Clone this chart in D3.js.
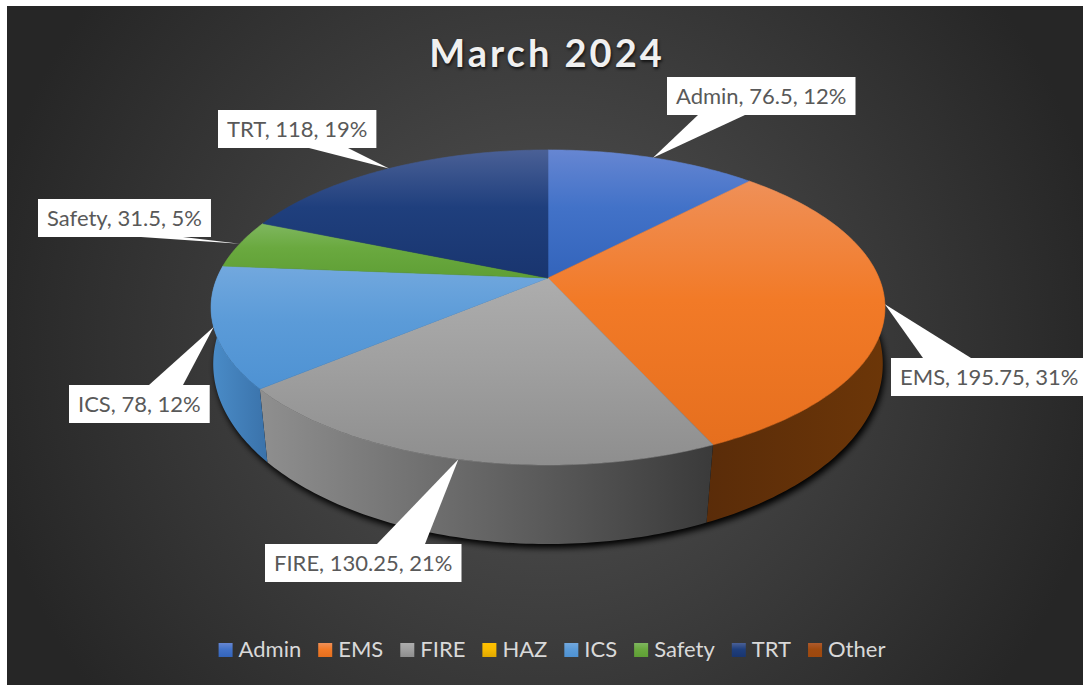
<!DOCTYPE html>
<html>
<head>
<meta charset="utf-8">
<style>
  html, body { margin: 0; padding: 0; background: #fff; }
  svg { display: block; }
  text { font-family: Lato, "Noto Sans", sans-serif; }
</style>
</head>
<body>
<div id="chart"></div>
<script src="https://cdnjs.cloudflare.com/ajax/libs/d3/7.8.5/d3.min.js"></script>
<script>
// data
var categories = ["Admin", "EMS", "FIRE", "HAZ", "ICS", "Safety", "TRT", "Other"];
var hours = [76.5, 195.75, 130.25, 0, 78, 31.5, 118, 0];
var percentLabels = ["12%", "31%", "21%", "0%", "12%", "5%", "19%", "0%"];

// slice colours
var topLight = ["#6686d2", "#ef9058", "#adadad", "#ffc000", "#72a8de", "#7fb75f", "#4a6096", "#ae5a2c"];
var topMid = ["#4272c8", "#f27a27", "#a0a0a0", "#f8bb00", "#5b9bd8", "#6aa93f", "#1f3f7d", "#a04b10"];
var topDark = ["#3364bb", "#e66f1e", "#8e8e8e", "#e0a800", "#4e92d3", "#5f9f35", "#19356f", "#9e480e"];
var sideLeft = ["#2f5597", "#5a2c09", "#8f8f8f", "#b08600", "#4a8cc8", "#4e7f2e", "#1a3368", "#6a3008"];
var sideRight = ["#2f5597", "#6c3608", "#3a3a3a", "#b08600", "#3a72aa", "#4e7f2e", "#1a3368", "#6a3008"];

// callout box corner and where its pointer leaves the box
var calloutLayout = {
  Admin: {x: 667, y: 77, base0: 698, base1: 745},
  EMS: {x: 891, y: 358, base0: 923, base1: 971},
  FIRE: {x: 265, y: 544, base0: 377, base1: 425},
  ICS: {x: 69, y: 385, base0: 149, base1: 183},
  Safety: {x: 38, y: 199, base0: 141, base1: 183},
  TRT: {x: 218, y: 110, base0: 309, base1: 348}
};

var width = 1083, height = 685;

var svg = d3.select("#chart")
  .append("svg")
    .attr("width", width)
    .attr("height", height);

var defs = svg.append("defs");

var bg = defs.append("radialGradient")
    .attr("id", "bg")
    .attr("gradientUnits", "userSpaceOnUse")
    .attr("cx", 545).attr("cy", 345).attr("r", 570)
bg.append("stop").attr("offset", 0).attr("stop-color", "#545454");
bg.append("stop").attr("offset", 1).attr("stop-color", "#262626");

defs.append("filter").attr("id", "blur")
    .attr("x", "-5%").attr("y", "-5%").attr("width", "110%").attr("height", "110%")
  .append("feGaussianBlur").attr("stdDeviation", 3);

categories.forEach(function (c, i) {
  var t = defs.append("linearGradient").attr("id", "top" + i)
      .attr("x1", 0).attr("y1", 0).attr("x2", 0).attr("y2", 1);
  t.append("stop").attr("offset", 0).attr("stop-color", topLight[i]);
  t.append("stop").attr("offset", 0.45).attr("stop-color", topMid[i]);
  t.append("stop").attr("offset", 1).attr("stop-color", topDark[i]);
  var s = defs.append("linearGradient").attr("id", "side" + i)
      .attr("x1", 0).attr("y1", 0).attr("x2", 1).attr("y2", 0);
  s.append("stop").attr("offset", 0).attr("stop-color", sideLeft[i]);
  s.append("stop").attr("offset", 1).attr("stop-color", sideRight[i]);
});

svg.append("rect")
    .attr("x", 7).attr("y", 6)
    .attr("width", width - 7).attr("height", height - 6)
    .attr("fill", "url(#bg)");

// the pie is a tilted disc seen in perspective, so project it by hand
var cx = 548;
var topRim = {a: 331, b: 152, cy: 278, tilt: 0.187};
var lowRim = {a: 331, b: 176, cy: 337, tilt: 0.15};

function project(rim, angle) {
  var X = Math.sin(angle), Y = Math.cos(angle), w = 1 + rim.tilt * Y;
  return [cx + rim.a * X / w, rim.cy - rim.b * Y / w];
}

function rimPoints(rim, a0, a1) {
  var n = Math.max(2, Math.ceil((a1 - a0) * 60));
  return d3.range(n + 1).map(function (k) {
    return project(rim, a0 + (a1 - a0) * k / n);
  });
}

var line = d3.line();
var pie = d3.pie().sort(null).value(function (d) { return d; });
var arcs = pie(hours);

var g = svg.append("g");

// shadow under the disc
g.append("path")
    .attr("d", line(rimPoints(lowRim, 0, 2 * Math.PI)) + "Z")
    .attr("transform", "translate(2,4)")
    .attr("fill", "#000")
    .attr("filter", "url(#blur)");

// side wall, only the part facing us
var frontStart = 80 * Math.PI / 180, frontEnd = 280 * Math.PI / 180;
g.append("g").selectAll("path")
  .data(arcs.filter(function (d) {
    return d.endAngle > d.startAngle && d.endAngle > frontStart && d.startAngle < frontEnd;
  }))
  .enter()
  .append("path")
    .attr("d", function (d) {
      var a0 = Math.max(d.startAngle, frontStart), a1 = Math.min(d.endAngle, frontEnd);
      return line(rimPoints(topRim, a0, a1).concat(rimPoints(lowRim, a0, a1).reverse())) + "Z";
    })
    .attr("fill", function (d) { return "url(#side" + d.index + ")"; });

// top face
g.append("g").selectAll("path")
  .data(arcs.filter(function (d) { return d.endAngle > d.startAngle; }))
  .enter()
  .append("path")
    .attr("d", function (d) {
      return line([[cx, topRim.cy]].concat(rimPoints(topRim, d.startAngle, d.endAngle))) + "Z";
    })
    .attr("fill", function (d) { return "url(#top" + d.index + ")"; })
    .attr("stroke", function (d) { return "url(#top" + d.index + ")"; })
    .attr("stroke-width", 0.6);

// callouts, the tip sits on the rim at the middle of each slice
var labels = svg.append("g").selectAll("g")
  .data(arcs.filter(function (d) { return d.value > 0; }))
  .enter()
  .append("g");

labels.each(function (d) {
  var name = categories[d.index];
  var box = calloutLayout[name];
  var tip = project(topRim, (d.startAngle + d.endAngle) / 2);
  var node = d3.select(this);
  var rect = node.append("rect").attr("fill", "#fff").attr("x", box.x).attr("y", box.y).attr("height", 38);
  var pointerY = tip[1] > box.y ? box.y + 38 : box.y;
  if (name == "EMS") pointerY = box.y;
  node.append("path")
      .attr("d", line([[box.base0, pointerY], tip, [box.base1, pointerY]]) + "Z")
      .attr("fill", "#fff");
  var txt = node.append("text")
      .attr("x", box.x + 9)
      .attr("y", box.y + 27)
      .attr("font-size", 22)
      .attr("fill", "#595959")
      .text(name + ", " + d.value + ", " + percentLabels[d.index]);
  rect.attr("width", txt.node().getComputedTextLength() + 18);
});

// title
svg.append("text")
    .attr("x", 547)
    .attr("y", 67)
    .attr("text-anchor", "middle")
    .attr("font-size", 38)
    .attr("font-weight", 700)
    .attr("letter-spacing", 3)
    .attr("fill", "#f0f0f0")
    .style("text-shadow", "1px 2px 3px rgba(0,0,0,0.7)")
    .text("March 2024");

// legend, laid out from the measured text widths
var legend = svg.append("g");
var legendX = 0, legendGap = 17;
categories.forEach(function (c, i) {
  var item = legend.append("g").attr("transform", "translate(" + legendX + ",0)");
  item.append("rect")
      .attr("y", 643).attr("width", 14).attr("height", 14)
      .attr("fill", "url(#top" + i + ")");
  var t = item.append("text")
      .attr("x", 20)
      .attr("y", 657)
      .attr("font-size", 22)
      .attr("fill", "#d9d9d9")
      .text(c);
  legendX += 20 + t.node().getComputedTextLength() + legendGap;
});
legend.attr("transform", "translate(" + (552 - (legendX - legendGap) / 2) + ",0)");
</script>
</body>
</html>
